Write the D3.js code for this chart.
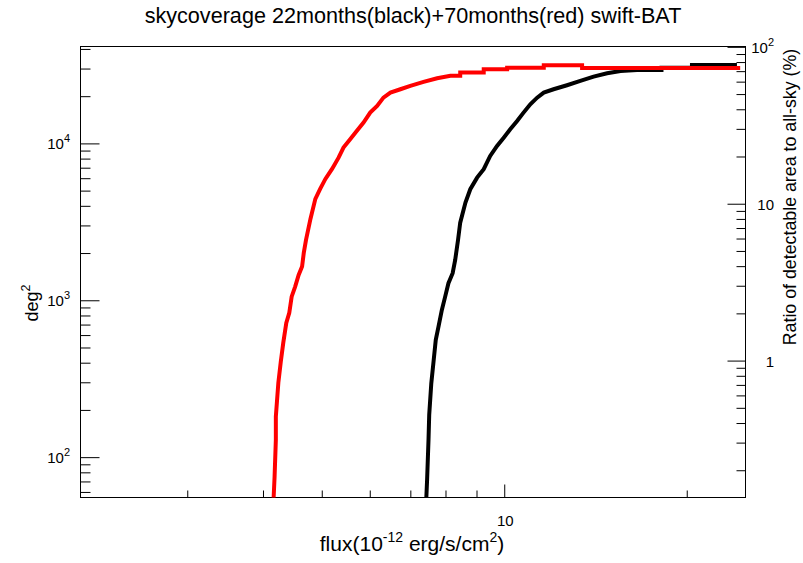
<!DOCTYPE html>
<html><head><meta charset="utf-8">
<script src="https://cdn.jsdelivr.net/npm/d3@7"></script>
<style>body{margin:0;background:#fff} text{font-family:"Liberation Sans",Arial,Helvetica,sans-serif;fill:#000}</style>
</head><body><svg id="c" width="803" height="563"></svg>
<script>
// ---- data ----
const fluxBlack = [7.43,7.46,7.50,7.52,7.58,7.65,7.71,7.79,7.89,7.99,8.09,8.22,8.30,8.39,8.46,8.63,8.79,9.02,9.25,9.48,9.73,9.98,10.23,10.50,10.76,11.04,11.33,11.62,12.06,12.69,13.35,14.04,14.78,15.55,16.56,18.17,18.17,20.4,20.4,24.2];
const areaBlack = [50,71.6,128.9,186,296,417,559,679,868,1055,1285,1488,1808,2425,3126,4194,5104,6050,6847,8322,9636,10880,12310,13910,15710,17770,19570,21070,22140,23490,25010,26650,28010,28970,29400,29400,30300,30300,31600,31600];
const fluxRed = [4.16,4.18,4.20,4.20,4.24,4.28,4.32,4.37,4.42,4.46,4.52,4.58,4.64,4.67,4.71,4.79,4.88,4.97,5.07,5.20,5.33,5.43,5.57,5.71,5.86,6.01,6.17,6.32,6.49,6.74,7.00,7.36,7.75,8.15,8.46,8.46,9.25,9.25,10.11,10.11,11.62,11.62,13.44,13.44,24.5];
const areaRed = [50,75.2,128.9,181.4,297.4,406.5,535,717,831,1055,1222,1451,1639,2004,2425,3301,4428,5126,5937,6877,8115,9399,10630,12010,13570,15710,17330,19570,21070,22140,23240,24650,26030,27000,27000,28260,28260,29700,29700,30400,30400,31500,31500,30270,30270];
const xMajorTicks = [10];
const xMinorTicks = [3,4,5,6,7,8,9,20];
const yLeftMajor = [100,1000,10000];
const yLeftExp = ["2","3","4"];
const yRightMajor = [1,10,100];
const yRightLabels = ["1","10","10"];
const yRightSup = ["","","2"];
const ALL_SKY = 41253;
const titleText = "skycoverage 22months(black)+70months(red) swift-BAT";

// ---- layout ----
const L = 80.5, R = 745.5, T = 46.5, B = 497.5;
const svg = d3.select("#c");
const x = d3.scaleLog().domain([2,25]).range([L, R]);
const y = d3.scaleLog().domain([55.3, ALL_SKY]).range([B, 46.85]);
const yR = d3.scaleLog().domain([55.3/ALL_SKY*100, 100]).range([B, 46.85]);

function minorsOf(lo, hi){
  const out=[];
  for (let e=-2;e<6;e++){ const base=Math.pow(10,e); for(let k=2;k<=9;k++){const v=k*base; if(v>lo&&v<hi) out.push(v);} }
  return out;
}

svg.append("defs").append("clipPath").attr("id","clip")
  .append("rect").attr("x",L).attr("y",T).attr("width",R-L).attr("height",B-T);

// frame
svg.append("rect").attr("x",L).attr("y",T).attr("width",R-L).attr("height",B-T)
  .attr("fill","none").attr("stroke","#000").attr("stroke-width",1);

// bottom axis ticks (inside)
const gx = svg.append("g").attr("transform",`translate(0,${B})`);
gx.call(d3.axisTop(x).tickValues(xMinorTicks).tickSize(7).tickFormat(""));
gx.append("g").call(d3.axisTop(x).tickValues(xMajorTicks).tickSize(13).tickFormat(""));
gx.selectAll(".domain").remove();
gx.selectAll("line").attr("stroke","#000");
svg.selectAll(null).data(xMajorTicks).join("text")
  .attr("x",d=>x(d)+1).attr("y",526).attr("text-anchor","middle").attr("font-size",15).text(d=>d);

// left axis ticks (inside)
const gl = svg.append("g").attr("transform",`translate(${L},0)`);
gl.call(d3.axisRight(y).tickValues(minorsOf(55.3,ALL_SKY)).tickSize(10).tickFormat(""));
gl.append("g").call(d3.axisRight(y).tickValues(yLeftMajor).tickSize(19).tickFormat(""));
gl.selectAll(".domain").remove();
gl.selectAll("line").attr("stroke","#000");
const lt = svg.selectAll(null).data(yLeftMajor).join("text")
  .attr("x",70).attr("y",d=>y(d)+6).attr("text-anchor","end").attr("font-size",15);
lt.append("tspan").text("10");
lt.append("tspan").attr("dy",-7).attr("font-size",11).text((d,i)=>yLeftExp[i]);

// right axis ticks (inside, pointing left)
const gr = svg.append("g").attr("transform",`translate(${R},0)`);
gr.call(d3.axisLeft(yR).tickValues(minorsOf(55.3/ALL_SKY*100,100)).tickSize(9).tickFormat(""));
gr.append("g").call(d3.axisLeft(yR).tickValues(yRightMajor).tickSize(18).tickFormat(""));
gr.selectAll(".domain").remove();
gr.selectAll("line").attr("stroke","#000");
const rt = svg.selectAll(null).data(yRightMajor).join("text")
  .attr("x",774).attr("y",d=>yR(d)+6).attr("text-anchor","end").attr("font-size",15);
rt.append("tspan").text((d,i)=>yRightLabels[i]);
rt.append("tspan").attr("dy",-7).attr("font-size",11).text((d,i)=>yRightSup[i]);

// curves
const line = d3.line().x(d=>x(d[0])).y(d=>y(d[1]));
const g = svg.append("g").attr("clip-path","url(#clip)");
g.append("path").datum(fluxBlack.map((f,i)=>[f,areaBlack[i]]))
  .attr("d",line).attr("fill","none").attr("stroke","#000").attr("stroke-width",4);
g.append("path").datum(fluxRed.map((f,i)=>[f,areaRed[i]]))
  .attr("d",line).attr("fill","none").attr("stroke","#ff0000").attr("stroke-width",4);

// titles
svg.append("text").attr("x",413).attr("y",23).attr("text-anchor","middle").attr("font-size",21.6).text(titleText);
const xt = svg.append("text").attr("x",412).attr("y",551).attr("text-anchor","middle").attr("font-size",21);
xt.append("tspan").text("flux(10");
xt.append("tspan").attr("dy",-9).attr("font-size",14).text("-12");
xt.append("tspan").attr("dy",9).text(" erg/s/cm");
xt.append("tspan").attr("dy",-9).attr("font-size",14).text("2");
xt.append("tspan").attr("dy",9).text(")");
const yt = svg.append("text").attr("transform","translate(38,303) rotate(-90)").attr("text-anchor","middle").attr("font-size",18);
yt.append("tspan").text("deg");
yt.append("tspan").attr("dy",-8).attr("font-size",12.5).text("2");
svg.append("text").attr("transform","translate(796,197) rotate(-90)").attr("text-anchor","middle").attr("font-size",17.8)
  .text("Ratio of detectable area to all-sky (%)");
</script></body></html>
